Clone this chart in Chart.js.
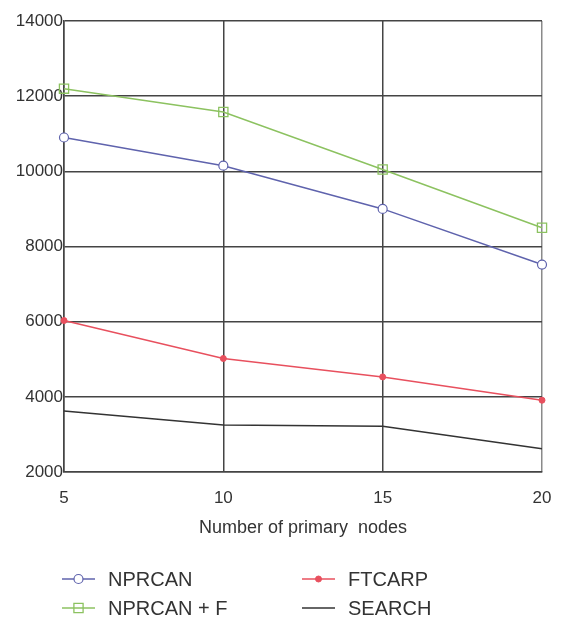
<!DOCTYPE html>
<html>
<head>
<meta charset="utf-8">
<script src="https://cdn.jsdelivr.net/npm/chart.js@4"></script>
<style>
  body { margin: 0; background: #fff; }
  #wrap { width: 561px; height: 621px; }
</style>
</head>
<body>
<div id="wrap"><canvas id="chart" width="561" height="621"></canvas></div>
<script>
// Données
const nodes = ['5', '10', '15', '20'];
const nprcan = [10900, 10150, 9000, 7520];
const nprcanF = [12200, 11580, 10050, 8500];
const ftcarp = [6030, 5020, 4530, 3910];
const search = [3620, 3250, 3220, 2620];
const yTicks = [2000, 4000, 6000, 8000, 10000, 12000, 14000];

const FONT = "'Liberation Sans', Arial, sans-serif";
const TEXT = '#333';

// Légende dessinée sur deux colonnes sous l'axe
const legendPlugin = {
  id: 'twoColLegend',
  afterDraw(chart) {
    const ctx = chart.ctx;
    const cols = [62, 302];
    const rows = [579, 608];
    chart.data.datasets.forEach((ds, i) => {
      const x = cols[Math.floor(i / 2)];
      const y = rows[i % 2];
      ctx.save();
      ctx.strokeStyle = ds.borderColor;
      ctx.lineWidth = 1.5;
      ctx.beginPath();
      ctx.moveTo(x, y);
      ctx.lineTo(x + 33, y);
      ctx.stroke();
      if (ds.pointRadius > 0) {
        ctx.fillStyle = ds.pointBackgroundColor;
        ctx.strokeStyle = ds.borderColor;
        ctx.lineWidth = ds.pointBorderWidth;
        Chart.helpers.drawPoint(ctx, {
          pointStyle: ds.pointStyle,
          radius: ds.pointRadius,
          borderWidth: ds.pointBorderWidth
        }, x + 16.5, y);
      }
      ctx.fillStyle = TEXT;
      ctx.font = '20px ' + FONT;
      ctx.textBaseline = 'middle';
      ctx.fillText(ds.label, x + 46, y + 1);
      ctx.restore();
    });
  }
};

new Chart(document.getElementById('chart'), {
  type: 'line',
  data: {
    labels: nodes,
    datasets: [
      {
        label: 'NPRCAN',
        data: nprcan,
        borderColor: '#5f63ad',
        backgroundColor: '#5f63ad',
        pointBackgroundColor: '#ffffff',
        pointStyle: 'circle',
        pointRadius: 4.5,
        pointBorderWidth: 1.2,
        borderWidth: 1.5,
      },
      {
        label: 'NPRCAN + F',
        data: nprcanF,
        borderColor: '#8cc260',
        backgroundColor: '#8cc260',
        pointBackgroundColor: 'rgba(255,255,255,0)',
        pointStyle: 'rect',
        pointRadius: 6.5,
        pointBorderWidth: 1.3,
        borderWidth: 1.5,
      },
      {
        label: 'FTCARP',
        data: ftcarp,
        borderColor: '#e8505e',
        backgroundColor: '#e8505e',
        pointBackgroundColor: '#e8505e',
        pointStyle: 'circle',
        pointRadius: 3,
        pointBorderWidth: 1,
        borderWidth: 1.5,
      },
      {
        label: 'SEARCH',
        data: search,
        borderColor: '#333',
        backgroundColor: '#333',
        pointBackgroundColor: '#333',
        pointStyle: 'circle',
        pointRadius: 0,
        borderWidth: 1.5,
      },
    ],
  },
  options: {
    responsive: false,
    animation: false,
    layout: { padding: { top: 21, right: 19, bottom: 79, left: 0 } },
    plugins: {
      legend: { display: false },
      tooltip: { enabled: false },
    },
    scales: {
      x: {
        offset: false,
        grid: {
          // le bord droit est plus clair que les autres lignes
          color: (c) => (c.index === nodes.length - 1 ? '#8a8a8a' : '#444'),
          lineWidth: 1.5,
          drawTicks: true,
          tickLength: 16,
          tickColor: 'rgba(0,0,0,0)',
        },
        border: { color: '#444', width: 1.5 },
        ticks: { color: TEXT, font: { family: FONT, size: 17 }, padding: 0, maxRotation: 0 },
        title: {
          display: true,
          text: 'Number of primary  nodes',
          color: TEXT,
          font: { family: FONT, size: 18 },
          padding: { top: 0, bottom: 3 },
        },
        afterFit: (scale) => { scale.height = 70; },
      },
      y: {
        min: 2000,
        max: 14000,
        afterBuildTicks: (scale) => { scale.ticks = yTicks.map(v => ({ value: v })); },
        grid: { color: '#444', lineWidth: 1.5, drawTicks: false },
        border: { color: '#444', width: 1.5 },
        ticks: {
          color: TEXT,
          font: { family: FONT, size: 17 },
          padding: 1,
          callback: (v) => String(v),
        },
        afterFit: (scale) => { scale.width = 64; },
      },
    },
  },
  plugins: [legendPlugin],
});
</script>
</body>
</html>
